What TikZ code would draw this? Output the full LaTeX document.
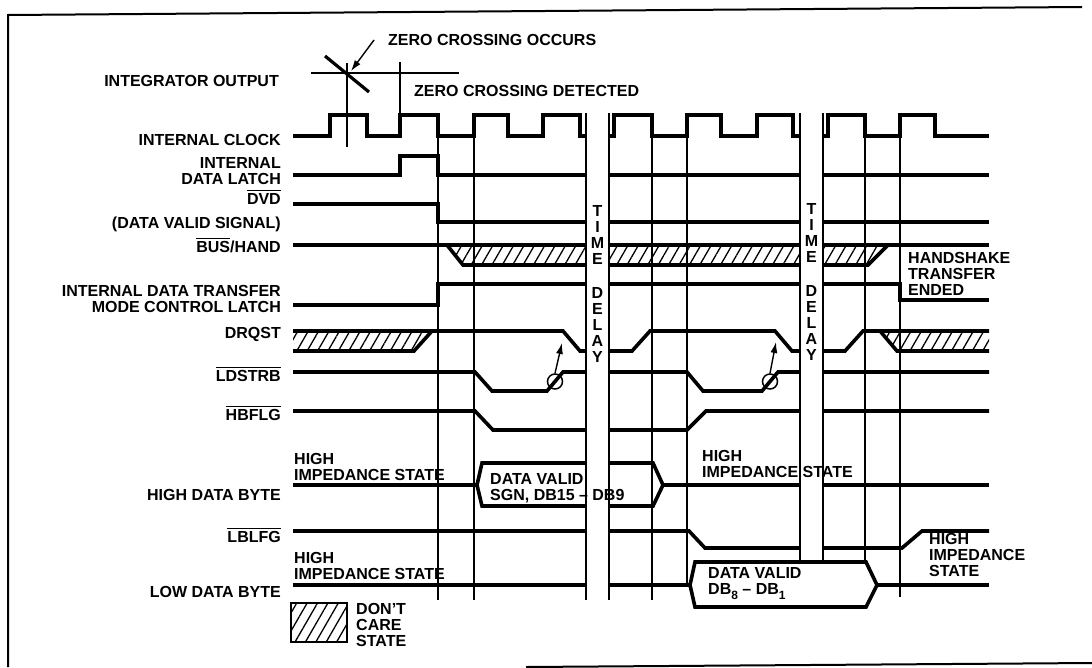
\documentclass[tikz,border=0pt]{standalone}
\usepackage{fontspec}
\setmainfont{Liberation Sans}
\usetikzlibrary{patterns.meta,arrows.meta}

\newcommand{\barsig}[1]{\setbox0\hbox{#1}\rlap{\rule[\dimexpr\ht0+1.6pt\relax]{\wd0}{1.2pt}}\box0}

\begin{document}
\begin{tikzpicture}[x=1pt,y=-1pt,
    sig/.style={line width=3.6pt},
    gridln/.style={line width=2pt},
    thinln/.style={line width=1.3pt},
    txt/.style={inner sep=0pt,align=left,font=\bfseries\fontsize{16}{16}\selectfont},
    lbl/.style={txt,align=right,anchor=base east},
    dontcare/.style={pattern={Lines[angle=60,distance=9pt,line width=1.3pt]}},
    delay/.style={txt,align=center,anchor=north},
    pointer/.style={line width=1.4pt,-{Latex[length=11pt,width=7pt]}}]
            \useasboundingbox (0,0) rectangle (1092,667);
            \draw[gridln] (1082,7) -- (8,15) -- (8,667);
            \draw[gridln] (526,667) -- (1092,663);

            \draw[gridln] (438,115) -- (438,600);
            \draw[gridln] (474,115) -- (474,600);
            \draw[gridln] (652,115) -- (652,600);
            \draw[gridln] (687,115) -- (687,585);
            \draw[gridln] (865,115) -- (865,562);
            \draw[gridln] (900,115) -- (900,597);

            \node[lbl] (lblInteg) at (279,86) {INTEGRATOR OUTPUT};
            \draw[thinln] (311,73) -- (459,73);
            \draw[thinln] (347,63) -- (347,147);
            \draw[thinln] (400,62) -- (400,115);
            \draw[line width=3.2pt] (325,56) -- (369,92);
            \node[txt,anchor=base west] (txtZcOccurs) at (388,45) {ZERO CROSSING OCCURS};
            \node[txt,anchor=base west] (txtZcDetect) at (414,96) {ZERO CROSSING DETECTED};
            \coordinate (zcTail) at (374,40);
            \coordinate (zcPoint) at (351,71);
            \draw[pointer] (zcTail) -- (zcPoint);

            \node[lbl] (lblClock) at (281,145) {INTERNAL CLOCK};
            \draw[sig] (293,136) -- (330,136) -- (330,115) -- (367,115) -- (367,136) -- (400,136) -- (400,115)
                -- (438,115) -- (438,136) -- (474,136) -- (474,115) -- (508,115) -- (508,136) -- (543,136)
                -- (543,115) -- (580,115) -- (580,136) -- (614,136) -- (614,115) -- (652,115) -- (652,136)
                -- (687,136) -- (687,115) -- (721,115) -- (721,136) -- (757,136) -- (757,115) -- (793,115)
                -- (793,136) -- (828,136) -- (828,115) -- (865,115) -- (865,136) -- (900,136) -- (900,115)
                -- (935,115) -- (935,136) -- (989,136);

            \node[lbl,anchor=north east] (lblLatch) at (281,157) {INTERNAL\\DATA LATCH};
            \draw[sig] (293,175) -- (400,175) -- (400,156) -- (438,156) -- (438,175) -- (989,175);

            \node[lbl] (lblDvd) at (281,204) {\barsig{DVD}};
            \node[lbl] (lblDvdSig) at (281,228) {(DATA VALID SIGNAL)};
            \draw[sig] (293,204) -- (438,204) -- (438,222) -- (989,222);

            \node[lbl] (lblBus) at (281,252) {\barsig{BUS}/HAND};
            \path[dontcare] (447,245) -- (463,265) -- (868,265) -- (888,245) -- cycle;
            \draw[sig] (293,245) -- (989,245);
            \draw[sig] (447,245) -- (463,265) -- (868,265) -- (888,245);

            \node[lbl,anchor=north east] (lblXfer) at (281,285) {INTERNAL DATA TRANSFER\\MODE CONTROL LATCH};
            \draw[sig] (293,305) -- (438,305) -- (438,284) -- (900,284) -- (900,300) -- (989,300);
            \node[txt,anchor=north west] (txtHandshake) at (908,252) {HANDSHAKE\\TRANSFER\\ENDED};

            \node[lbl] (lblDrqst) at (281,338) {DRQST};
            \path[dontcare] (293,331) -- (432,331) -- (414,351) -- (293,351) -- cycle;
            \path[dontcare] (880,331) -- (989,331) -- (989,351) -- (897,351) -- cycle;
            \draw[sig] (293,351) -- (414,351) -- (432,331);
            \draw[sig] (293,331) -- (563,331) -- (580,351) -- (632,351) -- (650,331) -- (775,331) -- (792,351)
                -- (845,351) -- (863,331) -- (989,331);
            \draw[sig] (880,331) -- (897,351) -- (989,351);

            \node[lbl] (lblLdstrb) at (281,381) {\barsig{LDSTRB}};
            \draw[sig] (293,372) -- (475,372) -- (492,391) -- (547,391) -- (563,372) -- (687,372) -- (703,391)
                -- (762,391) -- (778,372) -- (989,372);
            \node[circle,draw,line width=1.5pt,minimum size=15pt,inner sep=0pt] (ringA) at (555,381.5) {};
            \node[circle,draw,line width=1.5pt,minimum size=15pt,inner sep=0pt] (ringB) at (770,381.5) {};
            \coordinate (tipA) at (562,343);
            \coordinate (tipB) at (776,342);
            \draw[pointer] (ringA.north) -- (tipA);
            \draw[pointer] (ringB.north) -- (tipB);

            \node[lbl] (lblHbflg) at (281,420) {\barsig{HBFLG}};
            \draw[sig] (293,411) -- (475,411) -- (493,430) -- (687,430) -- (706,411) -- (989,411);

            \node[lbl] (lblHighByte) at (281,500) {HIGH DATA BYTE};
            \node[txt,anchor=north west] (txtHighZa) at (294,453) {HIGH\\IMPEDANCE STATE};
            \draw[sig] (293,485) -- (477,485);
            \draw[sig] (477,485) -- (482,463) -- (653,463) -- (663,485) -- (653,506) -- (482,506) -- cycle;
            \draw[sig] (663,485) -- (989,485);

            \node[lbl] (lblLblfg) at (281,542) {\barsig{LBLFG}};
            \draw[sig] (293,531) -- (689,531) -- (705,548) -- (902,548) -- (922,531) -- (989,531);

            \node[lbl] (lblLowByte) at (281,597) {LOW DATA BYTE};
            \node[txt,anchor=north west] (txtHighZc) at (294,552) {HIGH\\IMPEDANCE STATE};
            \draw[sig] (293,585) -- (690,585);
            \draw[sig] (690,585) -- (695,562) -- (866,562) -- (877,585) -- (866,607) -- (695,607) -- cycle;
            \draw[sig] (877,585) -- (989,585);
            \node[txt,anchor=north west] (txtHighZd) at (929,533) {HIGH\\IMPEDANCE\\STATE};

            \fill[white] (586,100) rectangle (609,600);
            \fill[white] (800,100) rectangle (823,558);
            \draw[gridln] (586,113) -- (586,600);
            \draw[gridln] (609,113) -- (609,600);
            \draw[gridln] (800,113) -- (800,562);
            \draw[gridln] (823,113) -- (823,562);
            \node[delay] (delayA) at (597.5,205) {T\\I\\M\\E\\[18pt]D\\E\\L\\A\\Y};
            \node[delay] (delayB) at (811.5,203) {T\\I\\M\\E\\[18pt]D\\E\\L\\A\\Y};

            \node[txt,anchor=north west] (txtHighZb) at (702,450) {HIGH\\IMPEDANCE STATE};
            \node[txt,anchor=north west] (txtValidHigh) at (490,473) {DATA VALID\\SGN, DB15 -- DB9};
            \node[txt,anchor=north west] (txtValidLow) at (708,567)
                {DATA VALID\\DB\raisebox{-5pt}{\fontsize{12}{12}\selectfont 8} -- DB\raisebox{-5pt}{\fontsize{12}{12}\selectfont 1}};

            \node[draw,dontcare,line width=2.6pt,minimum width=56pt,minimum height=39pt,inner sep=0pt] (careBox) at (319,622.5) {};
            \node[txt,anchor=north west] (txtCare) at (356,603) {DON'T\\CARE\\STATE};
\end{tikzpicture}
\end{document}
